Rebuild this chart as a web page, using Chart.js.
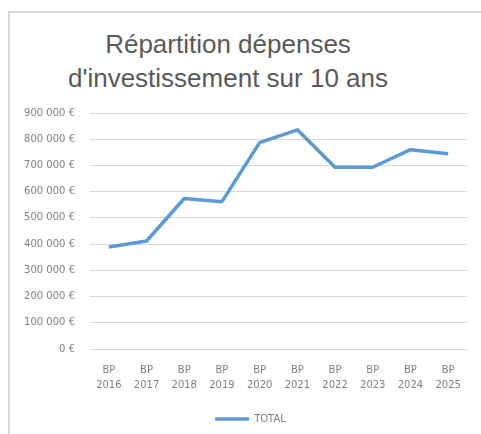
<!DOCTYPE html>
<html>
<head>
<meta charset="utf-8">
<script src="https://cdn.jsdelivr.net/npm/chart.js@4/dist/chart.umd.min.js"></script>
<style>
  html, body { margin: 0; padding: 0; background: #fff; }
  #wrap { position: relative; width: 481px; height: 434px; overflow: hidden; }
  #frame {
    position: absolute; left: 8px; top: 11px; width: 500px; height: 450px;
    border-left: 2px solid #d9d9d9; border-top: 2px solid #d9d9d9;
  }
  #title {
    position: absolute; left: 0; top: 27px; width: 456px;
    text-align: center; color: #595959;
    font-family: "Liberation Sans", Arial, sans-serif; font-size: 26px; line-height: 34px;
  }
  #chart { position: absolute; left: 0; top: 0; }
</style>
</head>
<body>
<div id="wrap">
  <div id="frame"></div>
  <div id="title">Répartition dépenses<br>d'investissement sur 10 ans</div>
  <canvas id="chart" width="481" height="434"></canvas>
</div>
<script>
const years = ['2016', '2017', '2018', '2019', '2020', '2021', '2022', '2023', '2024', '2025'];
const seriesName = 'TOTAL';
const totals = [389000, 412000, 574000, 562000, 787000, 836000, 693000, 693000, 760000, 745000];
const yTicks = [0, 100000, 200000, 300000, 400000, 500000, 600000, 700000, 800000, 900000];

function formatEuro(v) {
    return String(v).replace(/\B(?=(\d{3})+(?!\d))/g, ' ') + ' €';
}

const labelColor = '#7f7f7f';
const gridColor = '#d9d9d9';

// le legende est un peu decalee a droite dans l'original
const legendShift = {
    id: 'legendShift',
    afterLayout(chart) {
        if (chart.legend) {
            chart.legend.left += 9;
            chart.legend.right += 9;
        }
    },
};

const chartConfig = {
    type: 'line',
    data: {
        labels: years.map(y => ['BP', y]),
        datasets: [
            {
                label: seriesName,
                data: totals,
                borderColor: '#5b9bd5',
                backgroundColor: '#5b9bd5',
                borderWidth: 3.5,
                pointRadius: 0,
                pointHoverRadius: 0,
                pointStyle: 'line',
                tension: 0,
                fill: false,
                borderJoinStyle: 'round',
            },
        ],
    },
    options: {
        responsive: false,
        animation: false,
        layout: {
            padding: { top: 113, left: 16, right: 14, bottom: 0 },
        },
        scales: {
            x: {
                offset: true,
                grid: { display: false, drawTicks: false },
                border: { display: false },
                ticks: {
                    color: labelColor,
                    padding: 14,
                    maxRotation: 0,
                    autoSkip: false,
                    font: { family: 'DejaVu Sans', size: 10, lineHeight: 1.5 },
                },
                afterFit: scale => { scale.height = 55; },
            },
            y: {
                min: 0,
                max: 900000,
                afterBuildTicks: scale => { scale.ticks = yTicks.map(v => ({ value: v })); },
                grid: { color: gridColor, lineWidth: 1, drawTicks: false },
                border: { display: false },
                ticks: {
                    color: labelColor,
                    padding: 15,
                    font: { family: 'DejaVu Sans', size: 10 },
                    callback: v => formatEuro(v),
                },
                afterFit: scale => { scale.width = 74; },
            },
        },
        plugins: {
            title: { display: false },
            tooltip: { enabled: false },
            legend: {
                position: 'bottom',
                labels: {
                    color: labelColor,
                    usePointStyle: true,
                    pointStyle: 'line',
                    pointStyleWidth: 34,
                    padding: 10,
                    font: { family: 'DejaVu Sans', size: 10, lineHeight: 1 },
                },
            },
        },
    },
    plugins: [legendShift],
};

const chart = new Chart(document.getElementById('chart'), chartConfig);
</script>
</body>
</html>
